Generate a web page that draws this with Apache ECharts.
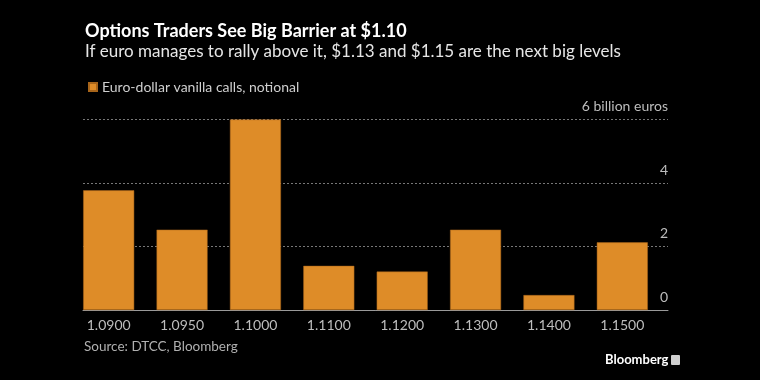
<!DOCTYPE html>
<html>
<head>
<meta charset="utf-8">
<script src="https://cdn.jsdelivr.net/npm/echarts@6/dist/echarts.min.js"></script>
<style>
html,body{margin:0;padding:0;background:#000;}
#c{width:760px;height:380px;}
</style>
</head>
<body>
<div id="c"></div>
<script>
const categories = ['1.0900','1.0950','1.1000','1.1100','1.1200','1.1300','1.1400','1.1500'];
const values = [3.77, 2.53, 6.0, 1.39, 1.21, 2.53, 0.47, 2.13];
const yTicks = [0, 2, 4, 6];
const seriesName = 'Euro-dollar vanilla calls, notional';
const titleText = 'Options Traders See Big Barrier at $1.10';
const subtitleText = 'If euro manages to rally above it, $1.13 and $1.15 are the next big levels';
const sourceText = 'Source: DTCC, Bloomberg';
const unitLabel = '6 billion euros';

const FONT = 'Lato, "Noto Sans", sans-serif';
const chart = echarts.init(document.getElementById('c'), null, {renderer:'canvas'});
const yMax = yTicks[yTicks.length-1];
const option = {
  backgroundColor: '#000',
  animation: false,
  textStyle: {fontFamily: FONT},
  legend: {
    left: 83, top: 75,
    itemWidth: 8, itemHeight: 8, itemGap: 10,
    icon: 'rect',
    data: [seriesName],
    textStyle: {color: '#cfcfcf', fontSize: 14, fontFamily: FONT}
  },
  grid: [
    {left: 83, right: 92, top: 119.5, bottom: 70},
    {left: 72, right: 101, top: 119.5, bottom: 70}
  ],
  xAxis: [
    {gridIndex: 0, type: 'value', min: 0, max: 1, show: true,
     axisLine: {show: true, lineStyle: {color: '#9a9a9a', width: 1}},
     axisTick: {show: false}, axisLabel: {show: false}, splitLine: {show: false}},
    {gridIndex: 1, type: 'category', data: categories,
     axisLine: {show: false}, axisTick: {show: false},
     axisLabel: {color: '#bdbdbd', fontSize: 14, margin: 8, fontFamily: FONT}}
  ],
  yAxis: [
    {gridIndex: 0, type: 'value', min: 0, max: yMax, interval: 2, position: 'right',
     axisLine: {show: false}, axisTick: {show: false},
     axisLabel: {inside: true, color: '#bdbdbd', fontSize: 14, margin: 0,
       verticalAlign: 'bottom', lineHeight: 16, padding: [0,0,5,0], fontFamily: FONT,
       formatter: v => v === yMax ? unitLabel : String(v)},
     splitLine: {show: true, lineStyle: {color: '#777777', type: [2,2], width: 1}}},
    {gridIndex: 1, type: 'value', min: 0, max: yMax, show: false}
  ],
  series: [{
    name: seriesName, type: 'bar', xAxisIndex: 1, yAxisIndex: 1,
    data: values, barWidth: 51,
    itemStyle: {color: '#DE8C28', borderColor: '#a8651a', borderWidth: 0.5}
  }],
  graphic: [
    {type: 'text', left: 85, top: 22, style: {text: titleText, fill: '#ffffff', font: 'bold 18px ' + FONT}},
    {type: 'text', left: 85, top: 43, style: {text: subtitleText, fill: '#e6e6e6', font: '17px ' + FONT}},
    {type: 'text', left: 84, top: 340, style: {text: sourceText, fill: '#b0b0b0', font: '13.5px ' + FONT}},
    {type: 'text', left: 605, top: 353, style: {text: 'Bloomberg', fill: '#ffffff', font: 'bold 13px ' + FONT}},
    {type: 'rect', left: 671, top: 355, shape: {width: 9, height: 10, r: 1}, style: {fill: '#cfcfcf'}}
  ]
};
chart.setOption(option);
</script>
</body>
</html>
